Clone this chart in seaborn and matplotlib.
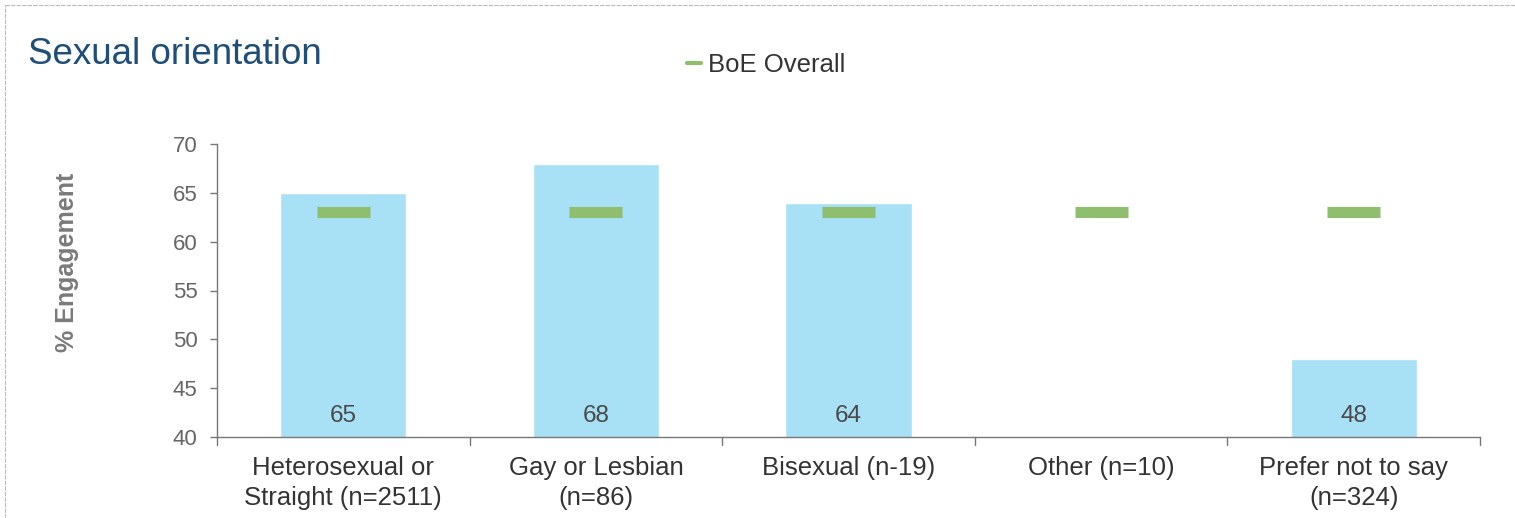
import numpy as np
import pandas as pd
import matplotlib
matplotlib.use("Agg")
import matplotlib.pyplot as plt
from matplotlib.lines import Line2D
import seaborn as sns

categories = ["Heterosexual or\nStraight (n=2511)", "Gay or Lesbian\n(n=86)",
              "Bisexual (n-19)", "Other (n=10)", "Prefer not to say\n(n=324)"]
engagement = [65, 68, 64, np.nan, 48]
boe_overall = [63, 63, 63, 63, 63]
y_ticks = [40, 45, 50, 55, 60, 65, 70]

sns.set_theme(style="white")
plt.rcParams["font.family"] = ["Liberation Sans", "DejaVu Sans"]

BAR = "#A8E0F5"
GREEN = "#8FBE6F"
GREY = "#666666"

df = pd.DataFrame({"category": categories, "engagement": engagement,
                   "overall": boe_overall})

fig = plt.figure(figsize=(15.15, 5.18), dpi=100)
ax = fig.add_axes([217 / 1515, 1 - 437 / 518, (1480 - 217) / 1515, (437 - 144) / 518])

sns.barplot(data=df, x="category", y="engagement", color=BAR, width=0.5,
            saturation=1, ax=ax, bottom=0)

# BoE overall benchmark shown as a short thick dash per category
for i, v in enumerate(df["overall"]):
    ax.hlines(v, i - 0.105, i + 0.105, color=GREEN, linewidth=8, zorder=3)

# value labels near the base of each bar
for i, v in enumerate(df["engagement"]):
    if not np.isnan(v):
        ax.text(i, 42.2, f"{int(v)}", ha="center", va="center",
                fontsize=17.5, color="#4a4a4a")

ax.set_ylim(40, 70)
ax.set_xlim(-0.5, len(categories) - 0.5)
ax.set_yticks(y_ticks)
ax.set_yticklabels([str(t) for t in y_ticks], fontsize=16, color=GREY)
ax.set_xticks(range(len(categories)))
ax.set_xticklabels(categories, fontsize=18.5, color="#333333", linespacing=1.3)
ax.tick_params(axis="x", length=0, pad=14)
ax.tick_params(axis="y", left=True, length=5, width=1, color="#777777", pad=9)

# category boundary ticks on the x axis
for b in np.arange(-0.5, len(categories), 1.0):
    ax.plot([b, b], [0, -0.026], transform=ax.get_xaxis_transform(),
            color="#777777", linewidth=1, clip_on=False)

ax.set_xlabel("")
ax.set_ylabel("% Engagement", fontsize=18, fontweight="bold", color="#7a7a7a",
              labelpad=0)
ax.yaxis.set_label_coords((79 - 217) / (1480 - 217), (437 - 262) / 293)
for s in ["top", "right"]:
    ax.spines[s].set_visible(False)
for s in ["left", "bottom"]:
    ax.spines[s].set_color("#777777")
    ax.spines[s].set_linewidth(1)

fig.text(28 / 1515, 1 - 55 / 518, "Sexual orientation", fontsize=26.5,
         color="#1F4E79", va="center", ha="left")

handle = Line2D([0], [0], color=GREEN, linewidth=3)
fig.legend(handles=[handle], labels=["BoE Overall"], loc="center left",
           bbox_to_anchor=(664 / 1515, 1 - 65 / 518), frameon=False,
           fontsize=18.5, handlelength=0.55, handletextpad=0.25,
           labelcolor="#333333")

# thin page border lines
fig.add_artist(Line2D([5 / 1515, 1], [1 - 5 / 518, 1 - 5 / 518],
                      transform=fig.transFigure, color="#bbbbbb", linewidth=0.8,
                      linestyle=(0, (4, 1))))
fig.add_artist(Line2D([5 / 1515, 5 / 1515], [0, 1 - 5 / 518],
                      transform=fig.transFigure, color="#bbbbbb", linewidth=0.8,
                      linestyle=(0, (4, 1))))

fig.savefig("out.png", dpi=100, facecolor="white")
